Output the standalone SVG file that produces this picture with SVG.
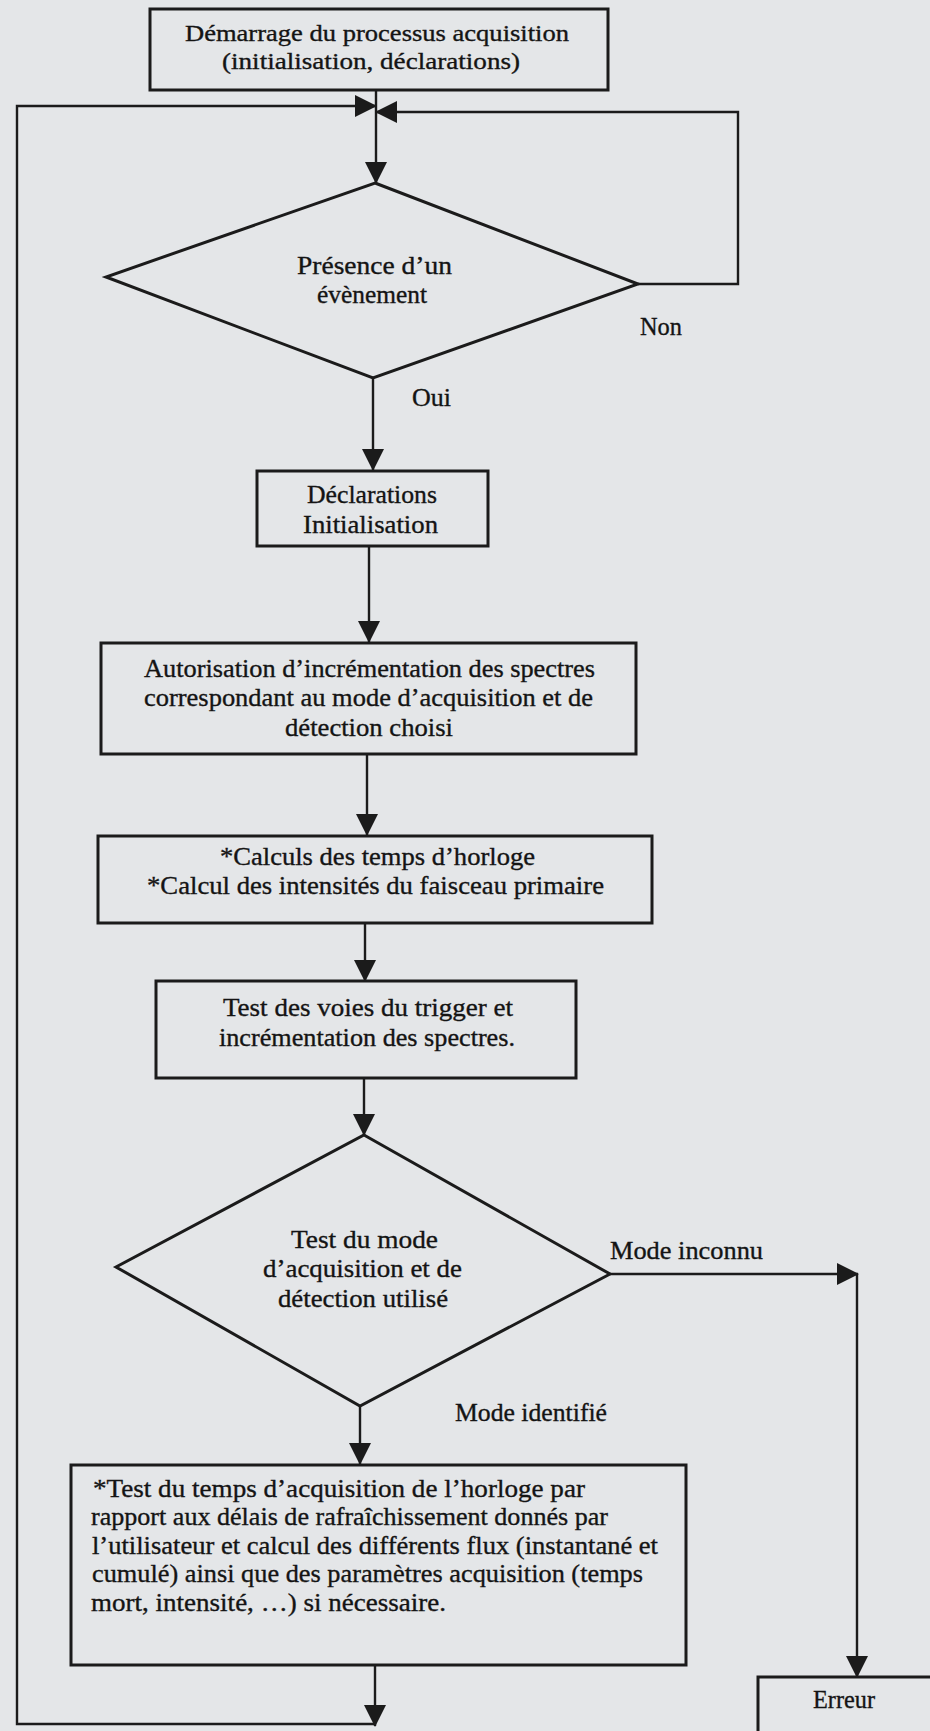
<svg xmlns="http://www.w3.org/2000/svg" width="930" height="1731" viewBox="0 0 930 1731">
<style>
.bg{fill:#e4e6e8}
.box{fill:none;stroke:#1b1b1b;stroke-width:3}
.dia{fill:none;stroke:#1b1b1b;stroke-width:3;stroke-linejoin:miter}
.ln{fill:none;stroke:#1b1b1b;stroke-width:2.4}
.t{font-family:"Liberation Serif","Times New Roman",serif;font-size:26px;fill:#141414;stroke:#141414;stroke-width:0.35}
.s{font-size:24px}
</style>
<defs>
<marker id="ah" viewBox="0 0 22 22" markerUnits="userSpaceOnUse" markerWidth="22" markerHeight="22" refX="21" refY="11" orient="auto">
<path d="M0,0 L22,11 L0,22 z" fill="#1b1b1b"/>
</marker>
</defs>
<rect class="bg" x="0" y="0" width="930" height="1731"/>

<g id="connectors">
<path class="ln" d="M376,90 V183" marker-end="url(#ah)"/>
<path class="ln" d="M375,1724 H17 V106 H376" marker-end="url(#ah)"/>
<path class="ln" d="M638,284 H738 V112 H376" marker-end="url(#ah)"/>
<path class="ln" d="M373,378 V470" marker-end="url(#ah)"/>
<path class="ln" d="M369,546 V642" marker-end="url(#ah)"/>
<path class="ln" d="M367,754 V835" marker-end="url(#ah)"/>
<path class="ln" d="M365,923 V981" marker-end="url(#ah)"/>
<path class="ln" d="M364,1078 V1135" marker-end="url(#ah)"/>
<path class="ln" d="M610,1274 H858" marker-end="url(#ah)"/>
<path class="ln" d="M857,1274 V1677" marker-end="url(#ah)"/>
<path class="ln" d="M360,1406 V1464" marker-end="url(#ah)"/>
<path class="ln" d="M375,1665 V1726" marker-end="url(#ah)"/>
<text class="t" x="640" y="335" textLength="42" lengthAdjust="spacingAndGlyphs">Non</text>
<text class="t" x="412" y="406" textLength="39" lengthAdjust="spacingAndGlyphs">Oui</text>
<text class="t" x="610" y="1259" textLength="153" lengthAdjust="spacingAndGlyphs">Mode inconnu</text>
<text class="t" x="455" y="1421" textLength="152" lengthAdjust="spacingAndGlyphs">Mode identifié</text>
</g>

<g id="start">
<rect class="box" x="150" y="9" width="458" height="81"/>
<text class="t s" x="185" y="41" textLength="384" lengthAdjust="spacingAndGlyphs">Démarrage  du processus acquisition</text>
<text class="t s" x="222" y="69" textLength="298" lengthAdjust="spacingAndGlyphs">(initialisation, déclarations)</text>
</g>

<g id="presence">
<polygon class="dia" points="375,183 638,284 373,378 106,277"/>
<text class="t" x="297" y="274" textLength="155" lengthAdjust="spacingAndGlyphs">Présence  d’un</text>
<text class="t" x="317" y="303" textLength="110" lengthAdjust="spacingAndGlyphs">évènement</text>
</g>

<g id="declarations">
<rect class="box" x="257" y="471" width="231" height="75"/>
<text class="t" x="307" y="503" textLength="130" lengthAdjust="spacingAndGlyphs">Déclarations</text>
<text class="t" x="303" y="533" textLength="135" lengthAdjust="spacingAndGlyphs">Initialisation</text>
</g>

<g id="autorisation">
<rect class="box" x="101" y="643" width="535" height="111"/>
<text class="t" x="144" y="677" textLength="451" lengthAdjust="spacingAndGlyphs">Autorisation d’incrémentation des spectres</text>
<text class="t" x="144" y="706" textLength="449" lengthAdjust="spacingAndGlyphs">correspondant au mode d’acquisition et de</text>
<text class="t" x="285" y="736" textLength="168" lengthAdjust="spacingAndGlyphs">détection choisi</text>
</g>

<g id="calculs">
<rect class="box" x="98" y="836" width="554" height="87"/>
<text class="t" x="220" y="865" textLength="315" lengthAdjust="spacingAndGlyphs">*Calculs des temps d’horloge</text>
<text class="t" x="147" y="894" textLength="457" lengthAdjust="spacingAndGlyphs">*Calcul des intensités du faisceau  primaire</text>
</g>

<g id="test-voies">
<rect class="box" x="156" y="981" width="420" height="97"/>
<text class="t" x="223" y="1016" textLength="290" lengthAdjust="spacingAndGlyphs">Test des voies du trigger et</text>
<text class="t" x="219" y="1046" textLength="296" lengthAdjust="spacingAndGlyphs">incrémentation des spectres.</text>
</g>

<g id="test-mode">
<polygon class="dia" points="364,1135 610,1274 360,1406 116,1267"/>
<text class="t" x="291" y="1248" textLength="147" lengthAdjust="spacingAndGlyphs">Test du mode</text>
<text class="t" x="263" y="1277" textLength="199" lengthAdjust="spacingAndGlyphs">d’acquisition et de</text>
<text class="t" x="278" y="1307" textLength="170" lengthAdjust="spacingAndGlyphs">détection utilisé</text>
</g>

<g id="test-temps">
<rect class="box" x="71" y="1465" width="615" height="200"/>
<text class="t" x="93" y="1497" textLength="492" lengthAdjust="spacingAndGlyphs">*Test du temps d’acquisition de l’horloge par</text>
<text class="t" x="91" y="1525" textLength="517" lengthAdjust="spacingAndGlyphs">rapport aux délais de rafraîchissement donnés par</text>
<text class="t" x="92" y="1554" textLength="566" lengthAdjust="spacingAndGlyphs">l’utilisateur et calcul des différents  flux (instantané et</text>
<text class="t" x="92" y="1582" textLength="551" lengthAdjust="spacingAndGlyphs">cumulé) ainsi que des paramètres acquisition (temps</text>
<text class="t" x="91" y="1611" textLength="355" lengthAdjust="spacingAndGlyphs">mort, intensité, …) si nécessaire.</text>
</g>

<g id="erreur">
<rect class="box" x="758" y="1677" width="190" height="80"/>
<text class="t" x="813" y="1708" textLength="62" lengthAdjust="spacingAndGlyphs">Erreur</text>
</g>
</svg>
